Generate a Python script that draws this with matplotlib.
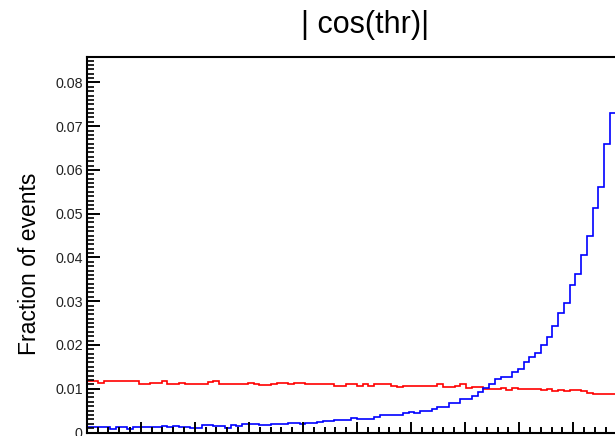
import numpy as np
import matplotlib
matplotlib.use("Agg")
import matplotlib.pyplot as plt
from matplotlib.ticker import MultipleLocator

# |cos(thrust)| distributions, normalised to unit area
x_low, x_high = 0.0, 1.0

signal = [
    0.0012, 0.0012, 0.0012, 0.0012, 0.0009, 0.0012, 0.0012, 0.0009, 0.0012, 0.0012,
    0.0012, 0.0012, 0.0012, 0.0015, 0.0012, 0.0015, 0.0012, 0.0012, 0.0011, 0.0011,
    0.0016, 0.0016, 0.0014, 0.0014, 0.0011, 0.0018, 0.0014, 0.0020, 0.0019, 0.0019,
    0.0016, 0.0016, 0.0020, 0.0020, 0.0020, 0.0022, 0.0022, 0.0020, 0.0021, 0.0022,
    0.0024, 0.0027, 0.0027, 0.0029, 0.0029, 0.0029, 0.0033, 0.0031, 0.0031, 0.0031,
    0.0035, 0.0039, 0.0039, 0.0041, 0.0041, 0.0044, 0.0046, 0.0044, 0.0048, 0.0050,
    0.0054, 0.0059, 0.0059, 0.0068, 0.0068, 0.0077, 0.0077, 0.0084, 0.0092, 0.0102,
    0.0111, 0.0123, 0.0126, 0.0126, 0.0138, 0.0145, 0.0161, 0.0172, 0.0182, 0.0200,
    0.0219, 0.0243, 0.0273, 0.0295, 0.0336, 0.0362, 0.0406, 0.0450, 0.0514, 0.0562,
    0.0659, 0.0730, 0.0776, 0.0815,
]

background = [
    0.0117, 0.0117, 0.0114, 0.0117, 0.0117, 0.0117, 0.0117, 0.0117, 0.0117, 0.0111,
    0.0111, 0.0114, 0.0114, 0.0117, 0.0111, 0.0111, 0.0114, 0.0111, 0.0111, 0.0111,
    0.0111, 0.0115, 0.0117, 0.0111, 0.0111, 0.0111, 0.0111, 0.0111, 0.0113, 0.0111,
    0.0109, 0.0109, 0.0111, 0.0113, 0.0113, 0.0111, 0.0113, 0.0113, 0.0110, 0.0111,
    0.0111, 0.0111, 0.0111, 0.0107, 0.0107, 0.0110, 0.0111, 0.0107, 0.0110, 0.0107,
    0.0111, 0.0111, 0.0111, 0.0107, 0.0105, 0.0107, 0.0107, 0.0107, 0.0107, 0.0107,
    0.0107, 0.0110, 0.0103, 0.0103, 0.0107, 0.0110, 0.0102, 0.0103, 0.0103, 0.0099,
    0.0099, 0.0099, 0.0101, 0.0097, 0.0102, 0.0100, 0.0100, 0.0100, 0.0100, 0.0096,
    0.0100, 0.0094, 0.0097, 0.0094, 0.0097, 0.0097, 0.0094, 0.0091, 0.0087, 0.0087,
    0.0087, 0.0087, 0.0087, 0.0087,
]

y_ticks = [0.0, 0.01, 0.02, 0.03, 0.04, 0.05, 0.06, 0.07, 0.08]
y_tick_labels = ["0", "0.01", "0.02", "0.03", "0.04", "0.05", "0.06", "0.07", "0.08"]
title_text = "| cos(thr)|"
y_title = "Fraction of events"

plt.rcParams["font.family"] = ["Liberation Sans", "DejaVu Sans"]

W, H = 615, 436
fig = plt.figure(figsize=(W / 100, H / 100), dpi=100)
fig.patch.set_facecolor("white")

# frame: x from 86.8 px to beyond the right border, y from 57 px to 432.5 px
ax = fig.add_axes([86.8 / W, 3.5 / H, 540.4 / W, 375.5 / H])

edges = np.linspace(x_low, x_high, len(signal) + 1)
ax.stairs(background, edges, color="#ff0000", linewidth=1.2, baseline=None)
ax.stairs(signal, edges, color="#0000ff", linewidth=1.2, baseline=None)

ax.set_xlim(x_low, x_high)
ax.set_ylim(0.0, 0.0858)

ax.xaxis.set_major_locator(MultipleLocator(0.1))
ax.xaxis.set_minor_locator(MultipleLocator(0.02))
ax.set_yticks(y_ticks, labels=y_tick_labels)
ax.yaxis.set_minor_locator(MultipleLocator(0.001))

for s in ax.spines.values():
    s.set_linewidth(1.5)
    s.set_color("black")

ax.tick_params(axis="x", which="major", direction="in", length=8, width=1.4,
               labelbottom=False, top=False)
ax.tick_params(axis="x", which="minor", direction="in", length=4, width=1.4, top=False)
ax.tick_params(axis="y", which="major", direction="in", length=9.7, width=1.4,
               labelsize=10.3, pad=3, right=False, labelcolor="#222222")
ax.tick_params(axis="y", which="minor", direction="in", length=4.7, width=1.2, right=False)

fig.text(365 / W, (H - 33.3) / H, title_text, ha="center", va="baseline", fontsize=22)
fig.text(30 / W, (H - 264) / H, y_title, rotation=90, ha="center", va="center",
         fontsize=16.5)

fig.savefig("out.png", dpi=100)
